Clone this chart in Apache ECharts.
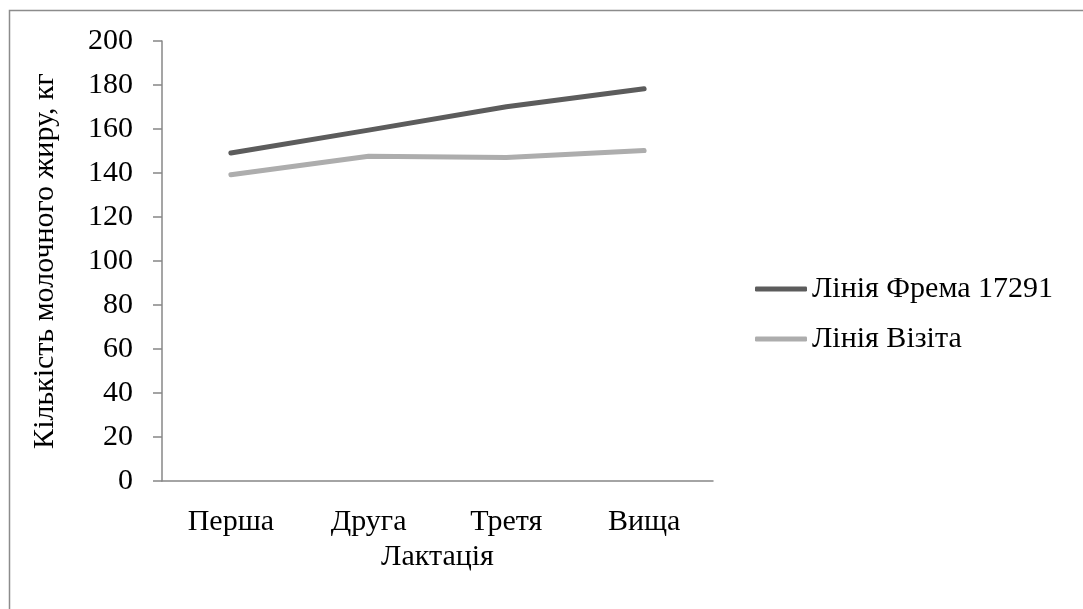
<!DOCTYPE html>
<html>
<head>
<meta charset="utf-8">
<script src="https://cdn.jsdelivr.net/npm/echarts@6/dist/echarts.min.js"></script>
<style>
html,body{margin:0;padding:0;background:#fff;}
#chart{width:1083px;height:609px;}
</style>
</head>
<body>
<div id="chart"></div>
<script>
const categories = ['Перша', 'Друга', 'Третя', 'Вища'];
const seriesFrema = [149.1, 159.5, 170.1, 178.3];
const seriesVizita = [139.2, 147.6, 147.0, 150.2];
const seriesNames = ['Лінія Фрема 17291', 'Лінія Візіта'];
const yTicks = { min: 0, max: 200, interval: 20 };

const FONT = '"Liberation Serif", "Times New Roman", serif';
const FS = 30;
const chart = echarts.init(document.getElementById('chart'));
chart.setOption({
  backgroundColor: '#fff',
  animation: false,
  graphic: [{
    type: 'rect',
    shape: { x: 9.5, y: 10.5, width: 1200, height: 800 },
    style: { fill: 'none', stroke: '#8c8c8c', lineWidth: 1.5 },
    silent: true, z: -1
  }],
  grid: { left: 162, top: 41, right: 370, bottom: 128, containLabel: false },
  legend: {
    orient: 'vertical',
    left: 750, top: 269,
    itemWidth: 52, itemHeight: 5,
    itemGap: 20,
    icon: 'roundRect',
    textStyle: { fontFamily: FONT, fontSize: FS, color: '#000' },
    data: seriesNames
  },
  xAxis: {
    type: 'category',
    data: categories,
    boundaryGap: true,
    name: 'Лактація',
    nameLocation: 'middle',
    nameGap: 47,
    nameTextStyle: { fontFamily: FONT, fontSize: FS, color: '#000' },
    axisLine: { lineStyle: { color: '#878787', width: 1.5 } },
    axisTick: { show: false },
    axisLabel: { fontFamily: FONT, fontSize: FS, color: '#000', margin: 26 }
  },
  yAxis: {
    type: 'value',
    min: yTicks.min, max: yTicks.max, interval: yTicks.interval,
    name: 'Кількість молочного жиру, кг',
    nameLocation: 'middle',
    nameGap: 102,
    nameTextStyle: { fontFamily: FONT, fontSize: FS, color: '#000' },
    axisLine: { show: true, lineStyle: { color: '#878787', width: 1.5 } },
    axisTick: { show: true, length: 9, lineStyle: { color: '#878787', width: 1.5 } },
    splitLine: { show: false },
    axisLabel: { fontFamily: FONT, fontSize: FS, color: '#000', margin: 29 }
  },
  series: [
    {
      name: seriesNames[0], type: 'line', data: seriesFrema,
      symbol: 'none', showSymbol: false,
      color: '#5c5c5c',
      lineStyle: { color: '#5c5c5c', width: 5, cap: 'round', join: 'round' }
    },
    {
      name: seriesNames[1], type: 'line', data: seriesVizita,
      symbol: 'none', showSymbol: false,
      color: '#adadad',
      lineStyle: { color: '#adadad', width: 5, cap: 'round', join: 'round' }
    }
  ]
});
</script>
</body>
</html>
